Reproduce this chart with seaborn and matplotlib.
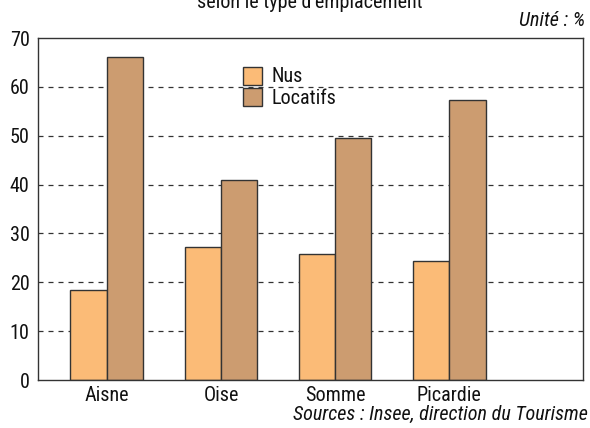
import numpy as np
import pandas as pd
import matplotlib as mpl
mpl.use("Agg")
import matplotlib.pyplot as plt
import seaborn as sns

# data
regions = ["Aisne", "Oise", "Somme", "Picardie"]
nus = [18.4, 27.2, 25.8, 24.4]
locatifs = [66.1, 40.9, 49.5, 57.3]
series = ["Nus", "Locatifs"]
colors = ["#FBBB77", "#CC9C70"]

df = pd.DataFrame({
    "region": regions * 2,
    "type": [series[0]] * 4 + [series[1]] * 4,
    "value": nus + locatifs,
})

sns.set_style("white")
plt.rcParams["font.family"] = ["Liberation Sans Narrow", "Roboto Condensed",
                               "Liberation Sans", "DejaVu Sans"]
plt.rcParams["text.color"] = "#111111"
plt.rcParams["xtick.color"] = "#111111"
plt.rcParams["ytick.color"] = "#111111"

FS = 14.5

fig = plt.figure(figsize=(5.9, 4.28), dpi=100)
ax = fig.add_axes([38 / 590, 48 / 428, 545 / 590, 342 / 428])

sns.barplot(data=df, x="region", y="value", hue="type", palette=colors,
            saturation=1, width=0.64, edgecolor="#333333", linewidth=1.0, ax=ax)
for p in ax.patches:
    p.set_zorder(3)

ax.set_ylim(0, 70)
ax.set_xlim(-0.605, 4.175)
ax.set_yticks(range(0, 71, 10))
ax.set_xlabel("")
ax.set_ylabel("")
ax.tick_params(axis="x", labelsize=FS, length=0, pad=4)
ax.tick_params(axis="y", labelsize=FS, length=0, pad=6)
for y in range(10, 70, 10):
    ax.axhline(y, color="#333333", lw=0.9, ls=(0, (4, 4)), zorder=1)
for s in ax.spines.values():
    s.set_color("#333333")
    s.set_linewidth(1.0)
    s.set_zorder(4)

leg = ax.legend(loc="upper left", bbox_to_anchor=(197 / 545, 0.94), frameon=False,
                fontsize=FS, handlelength=0.95, handleheight=1.0,
                handletextpad=0.45, labelspacing=0.06, borderaxespad=0)

fig.text(310 / 590, 1 - 2 / 428, "selon le type d'emplacement", ha="center",
         va="center", fontsize=FS)
fig.text(585 / 590, 1 - 20 / 428, "Unité : %", ha="right", va="center",
         fontsize=FS, style="italic")
fig.text(588 / 590, 1 - 414 / 428, "Sources : Insee, direction du Tourisme",
         ha="right", va="center", fontsize=FS, style="italic")

fig.savefig("out.png", dpi=100)
